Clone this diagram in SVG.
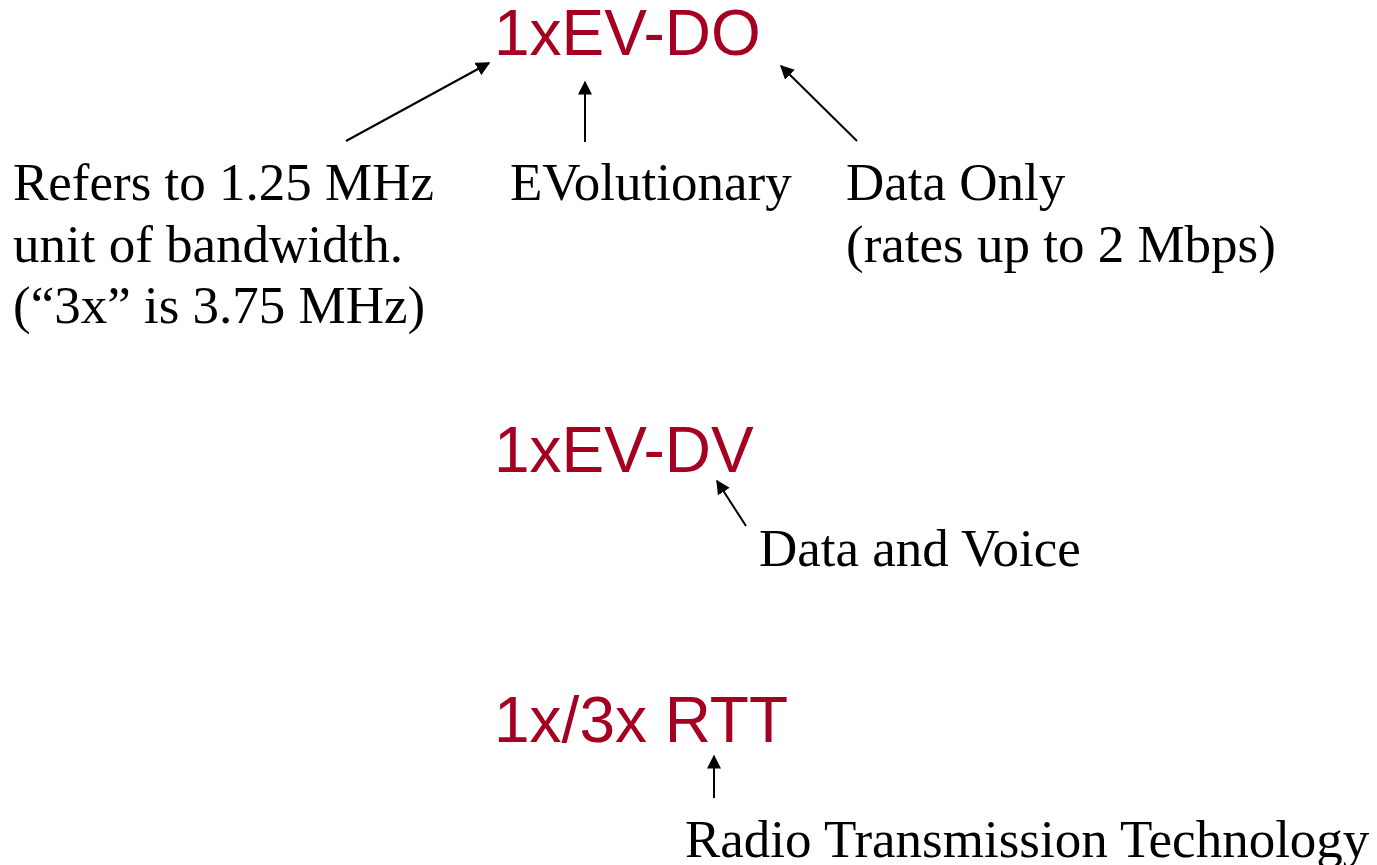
<svg xmlns="http://www.w3.org/2000/svg" width="1377" height="865" viewBox="0 0 1377 865">
<style>
.t{font-family:"Liberation Sans",Arial,sans-serif;font-size:64px;fill:#A50021}
.b{font-family:"Liberation Serif","Times New Roman",serif;font-size:53px;fill:#000}
.c{stroke:#000;stroke-width:2;fill:none;marker-end:url(#ah)}
</style>
<defs>
<marker id="ah" viewBox="0 0 10 10" refX="9" refY="5" markerWidth="7" markerHeight="7" markerUnits="strokeWidth" orient="auto">
<path d="M0,0 L10,5 L0,10 z" fill="#000"/>
</marker>
</defs>
<rect width="1377" height="865" fill="#fff"/>
<g id="connectors">
<line class="c" x1="346" y1="141" x2="489" y2="63"/>
<line class="c" x1="585" y1="142" x2="585" y2="82"/>
<line class="c" x1="857" y1="141" x2="781" y2="66"/>
<line class="c" x1="746" y1="526" x2="717" y2="481"/>
<line class="c" x1="714" y1="798" x2="714" y2="756"/>
</g>
<g id="ev-do"><text class="t" x="494" y="55">1xEV-DO</text></g>
<g id="ev-dv"><text class="t" x="494" y="472">1xEV-DV</text></g>
<g id="rtt"><text class="t" x="494" y="742">1x/3x RTT</text></g>
<g id="bandwidth"><text class="b" x="13" y="200">Refers to 1.25 MHz</text><text class="b" x="13" y="262">unit of bandwidth.</text><text class="b" x="13" y="323">(“3x” is 3.75 MHz)</text></g>
<g id="evolutionary"><text class="b" x="510" y="200">EVolutionary</text></g>
<g id="data-only"><text class="b" x="846" y="200">Data Only</text><text class="b" x="846" y="262">(rates up to 2 Mbps)</text></g>
<g id="data-voice"><text class="b" x="759" y="566">Data and Voice</text></g>
<g id="radio"><text class="b" x="685" y="857">Radio Transmission Technology</text></g>
</svg>
